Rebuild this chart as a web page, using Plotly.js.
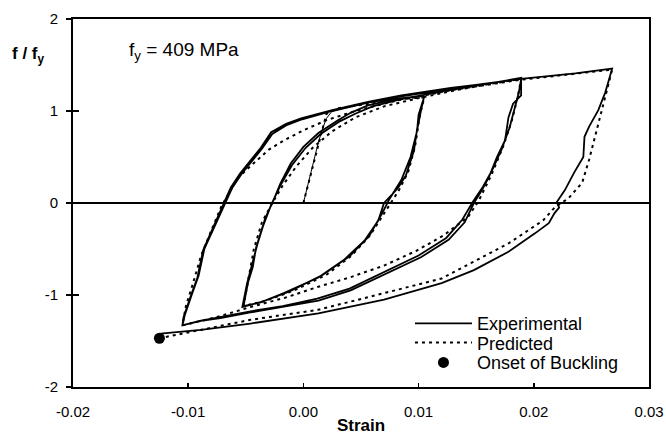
<!DOCTYPE html>
<html>
<head>
<meta charset="utf-8">
<script src="https://cdn.plot.ly/plotly-3.0.1.min.js"></script>
<style>html,body{margin:0;padding:0;background:#fff;}#chart{width:666px;height:435px;}</style>
</head>
<body>
<div id="chart"></div>
<script>
// ---- Experimental branches (strain, f/fy) ----
const expInitX = [0.0000,0.0005,0.0009,0.0013,0.0017,0.0020,0.0025,0.0041,0.0056,0.0076,0.0093,0.0105];
const expInitY = [0.00,0.25,0.47,0.66,0.82,0.92,1.00,1.05,1.09,1.13,1.15,1.16];

const expUnload1X = [0.0105,0.0100,0.0099,0.0096,0.0089,0.0082,0.0070,0.0065,0.0053,0.0035,0.0013,-0.0017,-0.0037,-0.0052];
const expUnload1Y = [1.16,0.96,0.83,0.57,0.30,0.16,0.00,-0.19,-0.41,-0.62,-0.81,-0.98,-1.08,-1.12];

const expReload1X = [-0.0052,-0.0048,-0.0044,-0.0041,-0.0037,-0.0033,-0.0027,-0.0020,-0.0011,0.0000,0.0013,0.0030,0.0041,0.0056,0.0076,0.0105];
const expReload1Y = [-1.12,-0.86,-0.70,-0.48,-0.33,-0.16,0.00,0.21,0.43,0.61,0.76,0.90,0.98,1.06,1.12,1.17];

const expUnload1bX = [0.0105,0.0102,0.0098,0.0093,0.0085,0.0075,0.0068,0.0057,0.0040,0.0017,-0.0012,-0.0035,-0.0053];
const expUnload1bY = [1.17,1.00,0.75,0.50,0.25,0.05,-0.12,-0.36,-0.58,-0.78,-0.96,-1.07,-1.13];

const expReload2X = [-0.0053,-0.0049,-0.0045,-0.0040,-0.0035,-0.0028,-0.0020,-0.0010,0.0002,0.0015,0.0032,0.0045,0.0060,0.0085,0.0120,0.0148,0.0172,0.0189];
const expReload2Y = [-1.13,-0.88,-0.68,-0.45,-0.25,-0.02,0.19,0.41,0.60,0.75,0.89,0.97,1.05,1.13,1.21,1.27,1.32,1.36];

const expUnload2X = [0.0189,0.0189,0.0182,0.0178,0.0175,0.0168,0.0161,0.0155,0.0148,0.0140,0.0126,0.0102,0.0070,0.0041,0.0013,-0.0017,-0.0046,-0.0072,-0.0089,-0.0105];
const expUnload2Y = [1.36,1.17,1.08,0.93,0.68,0.50,0.28,0.14,0.00,-0.21,-0.40,-0.59,-0.78,-0.95,-1.06,-1.13,-1.19,-1.25,-1.28,-1.33];

const expReload2bX = [-0.0105,-0.0103,-0.0097,-0.0091,-0.0086,-0.0077,-0.0068,-0.0062,-0.0054,-0.0045,-0.0036,-0.0027,-0.0014,-0.0001,0.0025,0.0056,0.0085,0.0128,0.0160,0.0189];
const expReload2bY = [-1.33,-1.22,-1.00,-0.79,-0.50,-0.25,0.00,0.16,0.31,0.45,0.59,0.75,0.85,0.91,1.00,1.09,1.16,1.24,1.30,1.35];

const expUnload2bX = [0.0189,0.0187,0.0184,0.0179,0.0172,0.0164,0.0156,0.0147,0.0138,0.0124,0.0100,0.0068,0.0040,0.0012,-0.0018,-0.0047,-0.0073,-0.0090,-0.0105];
const expUnload2bY = [1.35,1.20,1.05,0.82,0.58,0.36,0.18,0.01,-0.18,-0.38,-0.57,-0.76,-0.93,-1.04,-1.12,-1.18,-1.24,-1.28,-1.33];

const expReload3X = [-0.0105,-0.0104,-0.0098,-0.0092,-0.0087,-0.0078,-0.0069,-0.0063,-0.0055,-0.0046,-0.0037,-0.0028,-0.0015,-0.0002,0.0025,0.0056,0.0085,0.0128,0.0148,0.0189,0.0236,0.0268];
const expReload3Y = [-1.33,-1.24,-1.02,-0.81,-0.51,-0.26,0.00,0.17,0.32,0.46,0.60,0.77,0.86,0.92,1.01,1.10,1.17,1.25,1.28,1.35,1.41,1.46];

const expUnload3X = [0.0268,0.0266,0.0262,0.0256,0.0248,0.0244,0.0243,0.0235,0.0227,0.0220,0.0222,0.0218,0.0213,0.0201,0.0178,0.0148,0.0120,0.0070,0.0013,-0.0046,-0.0089,-0.0124];
const expUnload3Y = [1.46,1.38,1.20,1.01,0.83,0.72,0.50,0.33,0.14,0.01,-0.05,-0.11,-0.22,-0.33,-0.53,-0.73,-0.87,-1.05,-1.20,-1.31,-1.38,-1.42];

// ---- Predicted branches ----
const predInitX = [0.0000,0.0020,0.0030,0.0056,0.0085,0.0105];
const predInitY = [0.00,0.97,1.03,1.08,1.13,1.15];

const predUnload1X = [0.0105,0.0101,0.0097,0.0091,0.0083,0.0076,0.0068,0.0058,0.0042,0.0020,-0.0008,-0.0032,-0.0052];
const predUnload1Y = [1.15,0.95,0.62,0.34,0.14,0.00,-0.16,-0.35,-0.57,-0.78,-0.95,-1.06,-1.12];

const predReload1X = [-0.0052,-0.0048,-0.0043,-0.0036,-0.0027,-0.0018,-0.0006,0.0008,0.0025,0.0045,0.0070,0.0100,0.0130,0.0160,0.0189];
const predReload1Y = [-1.12,-0.84,-0.50,-0.21,0.00,0.19,0.40,0.60,0.78,0.93,1.05,1.14,1.22,1.29,1.35];

const predUnload2X = [0.0189,0.0186,0.0181,0.0173,0.0163,0.0152,0.0143,0.0122,0.0098,0.0070,0.0040,0.0013,-0.0016,-0.0046,-0.0075,-0.0105];
const predUnload2Y = [1.35,1.15,0.90,0.60,0.30,0.02,-0.15,-0.35,-0.52,-0.68,-0.81,-0.91,-1.03,-1.13,-1.24,-1.33];

const predReload2X = [-0.0105,-0.0102,-0.0096,-0.0089,-0.0080,-0.0071,-0.0064,-0.0057,-0.0046,-0.0030,-0.0017,0.0000,0.0020,0.0045,0.0080,0.0130,0.0189,0.0236,0.0268];
const predReload2Y = [-1.33,-1.12,-0.88,-0.58,-0.30,-0.03,0.12,0.27,0.40,0.58,0.68,0.79,0.90,1.00,1.11,1.23,1.34,1.41,1.45];

const predUnload3X = [0.0268,0.0265,0.0259,0.0253,0.0248,0.0242,0.0230,0.0218,0.0208,0.0178,0.0148,0.0120,0.0070,0.0013,-0.0046,-0.0090,-0.0125];
const predUnload3Y = [1.45,1.30,1.01,0.72,0.47,0.22,0.05,-0.05,-0.19,-0.44,-0.64,-0.82,-0.98,-1.16,-1.27,-1.38,-1.47];

// ---- Onset of buckling ----
const buckleX = [-0.0125];
const buckleY = [-1.47];

// ---- Axis ticks ----
const xTickVals = [-0.02,-0.01,0,0.01,0.02,0.03];
const xTickText = ["-0.02","-0.01","0.00","0.01","0.02","0.03"];
const yTickVals = [-2,-1,0,1,2];
const yTickText = ["-2","-1","0","1","2"];

const expX = [].concat(expUnload1X, expReload1X.slice(1), expUnload1bX.slice(1), expReload2X.slice(1), expUnload2X.slice(1), expReload2bX.slice(1), expUnload2bX.slice(1), expReload3X.slice(1), expUnload3X.slice(1));
const expY = [].concat(expUnload1Y, expReload1Y.slice(1), expUnload1bY.slice(1), expReload2Y.slice(1), expUnload2Y.slice(1), expReload2bY.slice(1), expUnload2bY.slice(1), expReload3Y.slice(1), expUnload3Y.slice(1));
const predX = [].concat(predInitX, predUnload1X.slice(1), predReload1X.slice(1), predUnload2X.slice(1), predReload2X.slice(1), predUnload3X.slice(1));
const predY = [].concat(predInitY, predUnload1Y.slice(1), predReload1Y.slice(1), predUnload2Y.slice(1), predReload2Y.slice(1), predUnload3Y.slice(1));

const FONT = "Liberation Sans, Arial, sans-serif";

const traces = [
  {x: expInitX, y: expInitY, mode: 'lines', line: {color: '#000', width: 1}, showlegend: false, hoverinfo: 'skip'},
  {x: expX, y: expY, mode: 'lines', name: 'Experimental', legend: 'legend', line: {color: '#000', width: 1.8}},
  {x: predX, y: predY, mode: 'lines', name: 'Predicted', legend: 'legend2', line: {color: '#000', width: 2, dash: '3px,4px'}},
  {x: buckleX, y: buckleY, mode: 'markers', name: 'Onset of Buckling', legend: 'legend3', marker: {color: '#000', size: 11}}
];

function legendAt(yPaper) {
  return {x: 0.585, xanchor: 'left', y: yPaper, yanchor: 'middle', bgcolor: 'rgba(0,0,0,0)',
          font: {family: FONT, size: 18, color: '#000'}, itemwidth: 57};
}

const layout = {
  width: 666, height: 435,
  margin: {l: 73, r: 17, t: 19, b: 48},
  paper_bgcolor: '#fff', plot_bgcolor: '#fff',
  font: {family: FONT, color: '#000', size: 15},
  showlegend: true,
  legend: legendAt(0.172),
  legend2: legendAt(0.120),
  legend3: legendAt(0.066),
  xaxis: {range: [-0.02, 0.03], tickvals: xTickVals, ticktext: xTickText, ticks: 'inside', ticklen: 4,
          tickwidth: 1.5, tickcolor: '#000', showgrid: false, zeroline: false, showline: true, linecolor: '#000',
          linewidth: 2, mirror: true, ticklabelstandoff: 10,
          tickfont: {family: FONT, size: 15, color: '#000'},
          title: {text: '<b>Strain</b>', standoff: 2, font: {family: FONT, size: 17, color: '#000'}}},
  yaxis: {range: [-2, 2], tickvals: yTickVals, ticktext: yTickText, ticks: 'outside', ticklen: 5,
          tickwidth: 1.5, tickcolor: '#000', showgrid: false, zeroline: true, zerolinecolor: '#000', zerolinewidth: 1.5,
          showline: true, linecolor: '#000', linewidth: 2, mirror: true, ticklabelstandoff: 5,
          tickfont: {family: FONT, size: 15, color: '#000'}},
  yaxis2: {range: [-2, 2], overlaying: 'y', side: 'left', tickvals: yTickVals, ticks: 'inside', ticklen: 6,
           tickwidth: 1.5, tickcolor: '#000', showticklabels: false, showgrid: false, zeroline: false, showline: false},
  annotations: [
    {xref: 'paper', yref: 'paper', x: -0.109, y: 0.902, xanchor: 'left', yanchor: 'middle', showarrow: false,
     text: '<b>f / f<sub>y</sub></b>', font: {family: FONT, size: 17, color: '#000'}},
    {xref: 'paper', yref: 'paper', x: 0.094, y: 0.912, xanchor: 'left', yanchor: 'middle', showarrow: false,
     text: 'f<sub>y</sub> = 409 MPa', font: {family: FONT, size: 19, color: '#000'}}
  ]
};

Plotly.newPlot('chart', traces.concat([{x: [], y: [], yaxis: 'y2', showlegend: false}]), layout, {displayModeBar: false, staticPlot: true});
</script>
</body>
</html>
